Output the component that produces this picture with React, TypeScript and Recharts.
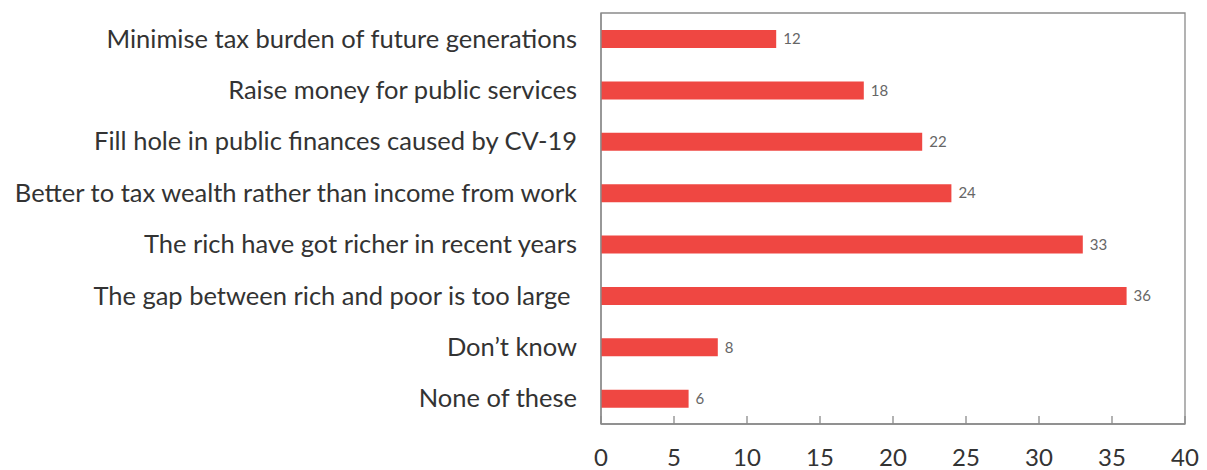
import {
  BarChart,
  Bar,
  XAxis,
  YAxis,
  LabelList,
  ReferenceArea,
} from "recharts";

const REASONS = [
  "Minimise tax burden of future generations",
  "Raise money for public services",
  "Fill hole in public finances caused by CV-19",
  "Better to tax wealth rather than income from work",
  "The rich have got richer in recent years",
  "The gap between rich and poor is too large\u00a0",
  "Don\u2019t know",
  "None of these",
];

const SHARES = [12, 18, 22, 24, 33, 36, 8, 6];

const X_TICKS = [0, 5, 10, 15, 20, 25, 30, 35, 40];

const BAR_COLOR = "#EF4742";
const FRAME = "#8a8a8a";

export default function App() {
  const rows = REASONS.map((r, i) => ({ reason: r, share: SHARES[i] }));
  return (
    <BarChart
      width={1199}
      height={462}
      data={rows}
      layout="vertical"
      margin={{ top: 5, right: 22, bottom: 0, left: 0 }}
      barCategoryGap={0}
    >
      <ReferenceArea
        x1={0}
        x2={40}
        fill="none"
        stroke={FRAME}
        strokeWidth={1.3}
        ifOverflow="visible"
      />
      <XAxis
        type="number"
        domain={[0, 40]}
        ticks={X_TICKS}
        height={46}
        axisLine={{ stroke: FRAME, strokeWidth: 1.3 }}
        tickLine={{ stroke: FRAME, strokeWidth: 1.3 }}
        tickSize={-8}
        tickMargin={33}
        tick={{ fill: "#333", fontSize: 24, fontFamily: "Lato" }}
      />
      <YAxis
        type="category"
        dataKey="reason"
        width={593}
        axisLine={{ stroke: FRAME, strokeWidth: 1.3 }}
        tickLine={false}
        tickMargin={18}
        interval={0}
        tick={{ fill: "#333", fontSize: 25.5, fontFamily: "Lato" }}
      />
      <Bar
        dataKey="share"
        fill={BAR_COLOR}
        barSize={18}
        isAnimationActive={false}
      >
        <LabelList
          dataKey="share"
          position="right"
          offset={7}
          fill="#666"
          fontSize={15}
          fontFamily="Lato"
        />
      </Bar>
    </BarChart>
  );
}
